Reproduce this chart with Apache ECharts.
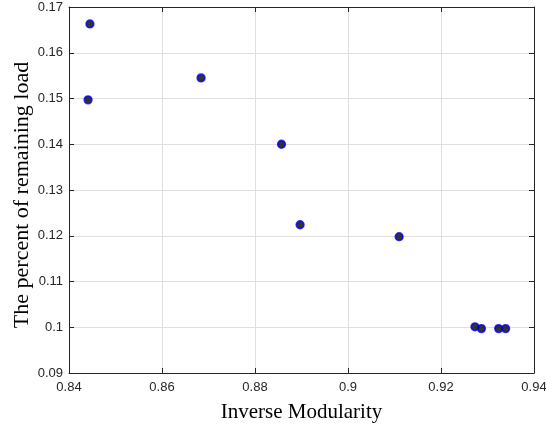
<!DOCTYPE html>
<html>
<head>
<meta charset="utf-8">
<script src="https://cdn.jsdelivr.net/npm/echarts@6/dist/echarts.min.js"></script>
<style>html,body{margin:0;padding:0;background:#fff;}#c{width:546px;height:424px;}</style>
</head>
<body>
<div id="c"></div>
<script>
var xValues = [0.8445, 0.8441, 0.8684, 0.8857, 0.8897, 0.9110, 0.9273, 0.9287, 0.9324, 0.9339];
var yValues = [0.1663, 0.1497, 0.1545, 0.1400, 0.1224, 0.1198, 0.1001, 0.0997, 0.0997, 0.0997];
var xTitle = 'Inverse Modularity';
var yTitle = 'The percent of remaining load';

var pts = xValues.map(function (x, i) { return [x, yValues[i]]; });
var chart = echarts.init(document.getElementById('c'), null, {renderer: 'canvas'});
var axisCol = '#262626';
var labelFont = {fontFamily: 'Liberation Sans, Arial, sans-serif', fontSize: 13, color: '#262626'};
var serif = 'Liberation Serif, Times New Roman, serif';
chart.setOption({
  animation: false,
  backgroundColor: '#fff',
  grid: {left: 69, right: 12, top: 7, bottom: 51, containLabel: false, outerBoundsMode: 'none'},
  xAxis: [{
    type: 'value', min: 0.84, max: 0.94, interval: 0.02,
    name: xTitle, nameLocation: 'middle', nameGap: 29, nameMoveOverlap: false,
    nameTextStyle: {fontFamily: serif, fontSize: 21, color: '#000'},
    axisLine: {show: true, onZero: false, lineStyle: {color: axisCol, width: 1}},
    axisTick: {show: true, inside: true, length: 5, lineStyle: {color: axisCol}},
    axisLabel: Object.assign({margin: 8}, labelFont),
    splitLine: {show: true, lineStyle: {color: '#dfdfdf', width: 1}}
  }, {
    type: 'value', position: 'top', min: 0.84, max: 0.94, interval: 0.02,
    axisLine: {show: true, onZero: false, lineStyle: {color: axisCol, width: 1}},
    axisTick: {show: true, inside: true, length: 5, lineStyle: {color: axisCol}},
    axisLabel: {show: false}, splitLine: {show: false}
  }],
  yAxis: [{
    type: 'value', min: 0.09, max: 0.17, interval: 0.01,
    name: yTitle, nameLocation: 'middle', nameGap: 36, nameMoveOverlap: false,
    nameTextStyle: {fontFamily: serif, fontSize: 22, color: '#000', padding: [0, 10, 0, 0]},
    axisLine: {show: true, onZero: false, lineStyle: {color: axisCol, width: 1}},
    axisTick: {show: true, inside: true, length: 5, lineStyle: {color: axisCol}},
    axisLabel: Object.assign({margin: 6}, labelFont),
    splitLine: {show: true, lineStyle: {color: '#dfdfdf', width: 1}}
  }, {
    type: 'value', position: 'right', min: 0.09, max: 0.17, interval: 0.01,
    axisLine: {show: true, onZero: false, lineStyle: {color: axisCol, width: 1}},
    axisTick: {show: true, inside: true, length: 5, lineStyle: {color: axisCol}},
    axisLabel: {show: false}, splitLine: {show: false}
  }],
  series: [{
    type: 'scatter', xAxisIndex: 0, yAxisIndex: 0,
    data: pts, symbol: 'circle', symbolSize: 7.5,
    itemStyle: {color: '#000', borderColor: '#0000ff', borderWidth: 1.8}
  }]
});
</script>
</body>
</html>
